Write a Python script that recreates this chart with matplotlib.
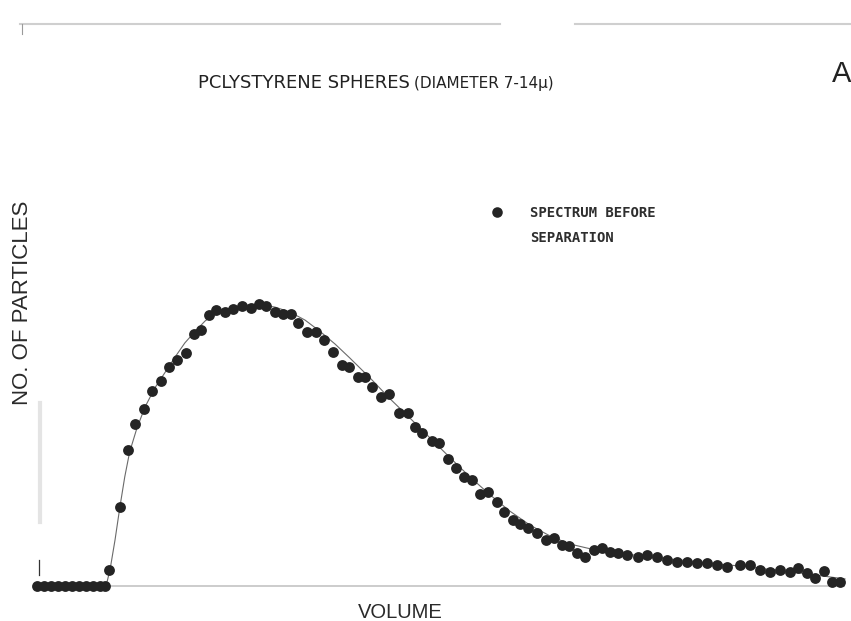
import matplotlib
matplotlib.use("Agg")
import matplotlib.pyplot as plt
from matplotlib.lines import Line2D

# ---- data (arbitrary units: volume 0-100, count 0-100) ----
volume = [0.5, 1.4, 2.2, 3.1, 3.9, 4.8, 5.7, 6.5, 7.4, 8.3, 8.9,
          9.4, 10.7, 11.7, 12.6, 13.7, 14.7, 15.8, 16.7, 17.7, 18.8,
          19.8, 20.7, 21.7, 22.5, 23.6, 24.6, 25.7, 26.8, 27.8, 28.7,
          29.8, 30.8, 31.8, 32.6, 33.7, 34.9, 35.8, 36.9, 38.1, 38.9,
          40.0, 40.9, 41.7, 42.9, 43.8, 45.1, 46.2, 47.0, 47.9, 49.1,
          50.0, 51.1, 52.1, 53.1, 54.1, 55.0, 56.0, 57.1, 58.0, 59.1,
          60.0, 61.0, 62.1, 63.2, 64.2, 65.1, 66.0, 67.0, 68.0, 69.1,
          70.1, 71.1, 72.0, 73.2, 74.5, 75.6, 76.8, 78.1, 79.3, 80.5,
          81.8, 83.0, 84.2, 85.5, 87.1, 88.3, 89.5, 90.8, 92.0, 93.2,
          94.2, 95.3, 96.3, 97.4, 98.4, 99.4]
particles = [0, 0, 0, 0, 0, 0, 0, 0, 0, 0, 0,
             5.7, 28.0, 48.2, 57.4, 62.8, 69.1, 72.7, 77.7, 80.1, 82.6,
             89.4, 90.8, 96.1, 97.9, 97.2, 98.2, 99.3, 98.6, 100.0, 99.3,
             97.2, 96.5, 96.5, 93.3, 90.1, 90.1, 87.2, 83.0, 78.4, 77.7,
             74.1, 74.1, 70.6, 67.0, 68.1, 61.3, 61.3, 56.4, 54.3, 51.4,
             50.7, 45.0, 41.8, 38.7, 37.6, 32.6, 33.3, 29.8, 26.2, 23.4,
             22.0, 20.6, 18.8, 16.3, 17.0, 14.5, 14.2, 11.7, 10.3, 12.8,
             13.5, 12.1, 11.7, 11.0, 10.3, 11.0, 10.3, 9.2, 8.5, 8.5,
             8.2, 8.2, 7.4, 6.7, 7.4, 7.4, 5.7, 5.0, 5.7, 5.0,
             6.4, 4.6, 2.8, 5.3, 1.4, 1.4]

# fitted curve drawn by hand in the original
curve_volume = [9.0, 9.5, 10.1, 10.7, 11.3, 11.9, 12.8, 13.8, 15.0, 16.3,
                17.5, 18.7, 20.0, 21.2, 22.4, 24.3, 26.1, 28.0, 29.8, 31.6,
                33.5, 35.3, 37.2, 39.0, 41.5, 44.0, 46.4, 48.9, 51.4, 53.8,
                56.3, 58.7, 61.2, 63.7, 66.1, 69.8, 76.0, 82.1, 88.3, 94.5, 100.0]
curve_particles = [0, 6.0, 16.3, 28.0, 38.7, 47.5, 56.0, 63.5, 70.2, 75.9,
                   81.2, 86.2, 90.4, 94.0, 96.5, 98.6, 99.6, 99.8, 98.9, 97.2,
                   94.3, 90.4, 85.8, 80.9, 73.8, 66.3, 59.6, 52.5, 45.4, 38.7,
                   32.3, 26.6, 21.6, 17.7, 14.9, 12.4, 10.3, 8.5, 6.7, 4.6, 2.5]

title_main = "PCLYSTYRENE SPHERES"
title_sub = "(DIAMETER 7-14\u03bc)"
panel_letter = "A"
legend_lines = ["SPECTRUM BEFORE", "SEPARATION"]
x_label = "VOLUME"
y_label = "NO. OF PARTICLES"

# ---- figure ----
W, H = 851, 621
fig = plt.figure(figsize=(W / 100, H / 100), dpi=100)
fig.patch.set_facecolor("white")

def fx(px):
    return px / W

def fy(py):
    return 1 - py / H

# axes: x 0..100 -> px 33..845 ; y 0 -> px 586, 100 -> px 304
ax_left, ax_right, ax_top, ax_bottom = 33, 845, 180, 600
ax = fig.add_axes([fx(ax_left), fy(ax_bottom), (ax_right - ax_left) / W, (ax_bottom - ax_top) / H])
ppu_y = (586 - 304) / 100.0
ax.set_xlim(0, 100)
ax.set_ylim(-(ax_bottom - 586) / ppu_y, (586 - ax_top) / ppu_y)
for s in ax.spines.values():
    s.set_visible(False)
ax.set_xticks([])
ax.set_yticks([])
ax.patch.set_alpha(0)

# faint baseline (axis) of the scanned figure
ax.axhline(0, color="#c4c4c4", lw=1.2, zorder=1)

# fitted curve
ax.plot(curve_volume, curve_particles, color="#6a6a6a", lw=0.8, zorder=2, clip_on=False)

# measured spectrum
ax.plot(volume, particles, linestyle="none", marker="o", markersize=7.8,
        color="#242424", markeredgewidth=0, zorder=3, clip_on=False)

# axis labels
lab_font = ["Liberation Sans", "DejaVu Sans"]
ax.set_ylabel(y_label, fontsize=16, family=lab_font, color="#2a2a2a")
ax.yaxis.set_label_coords(0.0, (ax_bottom - 303) / (ax_bottom - ax_top))
ax.set_xlabel(x_label, fontsize=14.5, family=lab_font, color="#2a2a2a")
ax.xaxis.set_label_coords((400 - ax_left) / (ax_right - ax_left), -3 / (ax_bottom - ax_top))

# legend
handles = [Line2D([], [], linestyle="none", marker="o", markersize=7.6,
                  color="#242424", markeredgewidth=0),
           Line2D([], [], linestyle="none", marker="none")]
leg = ax.legend(handles, legend_lines, loc="upper left",
                bbox_to_anchor=(fx(490), fy(206)), bbox_transform=fig.transFigure,
                frameon=False, borderpad=0, borderaxespad=0, handlelength=1.0,
                handletextpad=1.9, labelspacing=0.8,
                prop={"family": ["DejaVu Sans Mono"], "size": 10, "weight": "bold"})
for t in leg.get_texts():
    t.set_color("#2e2e2e")

# title
title_font = ["DejaVu Sans"]
fig.text(fx(198), fy(88), title_main, fontsize=13, family=title_font,
         ha="left", va="baseline", color="#222222")
fig.text(fx(414), fy(88), title_sub, fontsize=11, family=title_font,
         ha="left", va="baseline", color="#222222")
fig.text(fx(832), fy(82), panel_letter, fontsize=21, family=lab_font,
         ha="left", va="baseline", color="#222222")

# scan artifacts: faint border strip at the top and marks on the left
fig.add_artist(Line2D([fx(20), fx(500)], [fy(24), fy(24)], color="#cfcfcf", lw=1.5))
fig.add_artist(Line2D([fx(575), fx(851)], [fy(24), fy(24)], color="#cfcfcf", lw=1.5))
fig.add_artist(Line2D([fx(22), fx(22)], [fy(24), fy(34)], color="#9a9a9a", lw=0.8))
fig.add_artist(Line2D([fx(40), fx(40)], [fy(403), fy(522)], color="#e4e4e4", lw=3))
fig.add_artist(Line2D([fx(39), fx(39)], [fy(560), fy(575)], color="#333333", lw=0.9))

fig.savefig("out.png", dpi=100, facecolor="white")
